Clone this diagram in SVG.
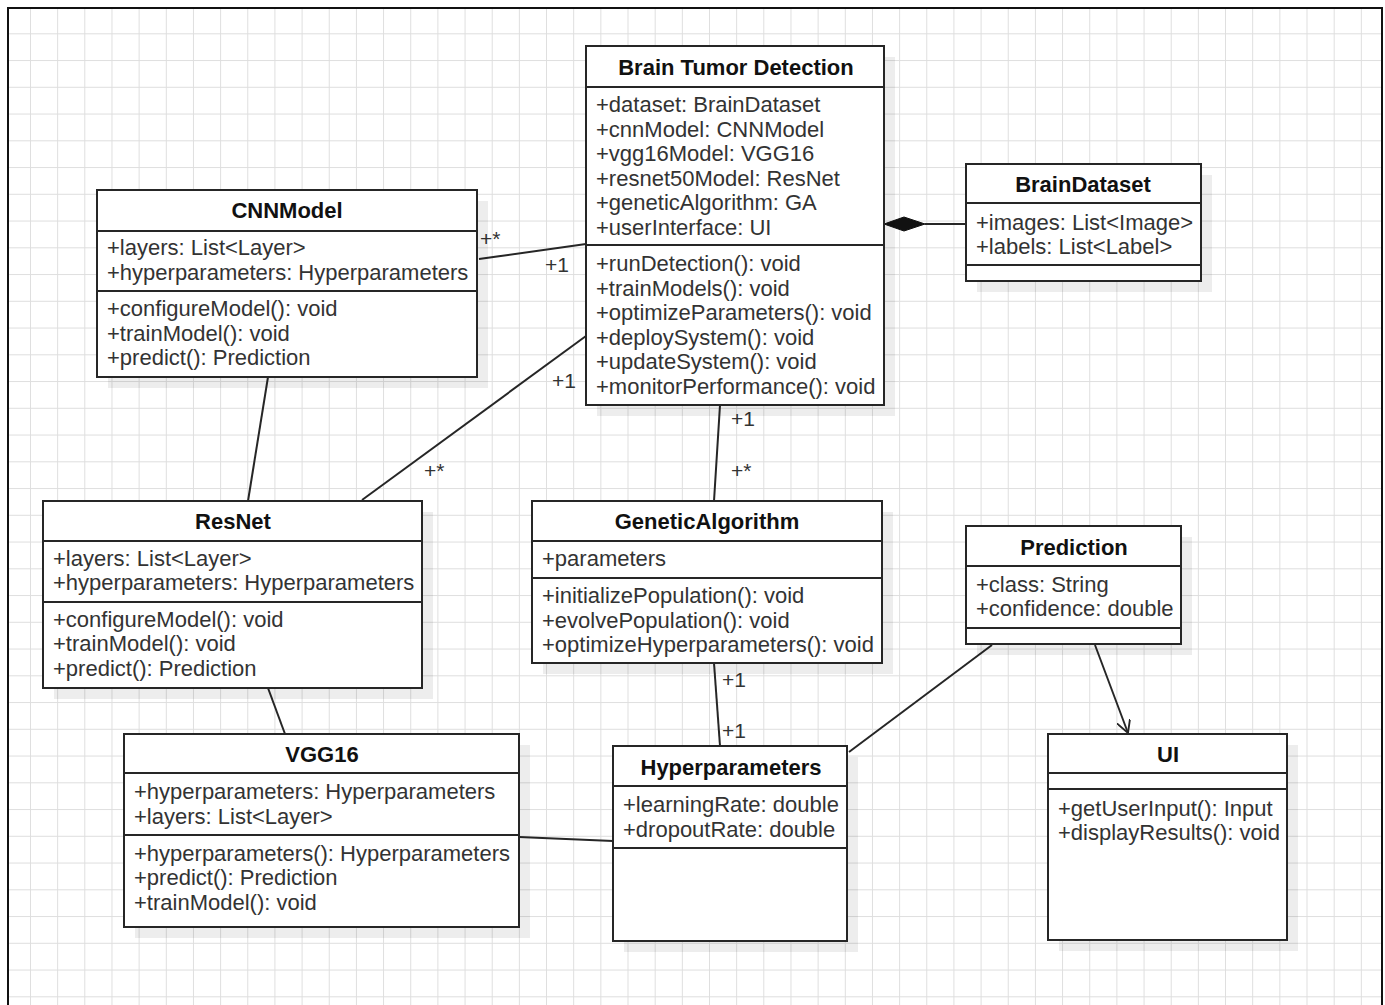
<svg xmlns="http://www.w3.org/2000/svg" width="1385" height="1005" viewBox="0 0 1385 1005">
<style>
.box{fill:#fff;stroke:#262626;stroke-width:2}
.shadow{fill:#000;fill-opacity:0.07}
.div{stroke:#262626;stroke-width:2}
.t{font-family:"Liberation Sans",Arial,sans-serif;font-size:22px;fill:#333;dominant-baseline:central}
.h{font-family:"Liberation Sans",Arial,sans-serif;font-size:22px;font-weight:bold;fill:#111;text-anchor:middle;dominant-baseline:central}
.m{font-family:"Liberation Sans",Arial,sans-serif;font-size:21px;fill:#333;dominant-baseline:central}
.c{stroke:#262626;stroke-width:2;fill:none}
</style>
<defs>
<pattern id="grid" patternUnits="userSpaceOnUse" x="2.84" y="6.55" width="27.16" height="26.75">
<path d="M0,0 H27.16 M0,0 V26.75" stroke="#dedede" stroke-width="2" fill="none"/>
</pattern>
<marker id="open" viewBox="0 0 12 12" refX="11" refY="6" markerWidth="14" markerHeight="14" markerUnits="userSpaceOnUse" orient="auto">
<path d="M0,0 L11,6 L0,12" fill="none" stroke="#262626" stroke-width="1.6"/>
</marker>
</defs>
<rect x="0" y="0" width="1385" height="1005" fill="#fff"/>
<rect x="8" y="8" width="1374" height="1010" fill="url(#grid)"/>
<rect x="8" y="8" width="1374" height="1010" fill="none" stroke="#111" stroke-width="2"/>

<g id="connectors">
<line class="c" x1="479" y1="259" x2="586" y2="244"/>
<line class="c" x1="268" y1="377" x2="248" y2="501"/>
<line class="c" x1="362" y1="500" x2="586" y2="336"/>
<line class="c" x1="720" y1="405" x2="714" y2="501"/>
<line class="c" x1="714" y1="663" x2="720" y2="746"/>
<line class="c" x1="268" y1="688" x2="285" y2="734"/>
<line class="c" x1="519" y1="837" x2="613" y2="841"/>
<line class="c" x1="992" y1="645" x2="849" y2="752"/>
<line class="c" x1="1095" y1="645" x2="1128" y2="733" marker-end="url(#open)"/>
<line class="c" x1="925" y1="224" x2="966" y2="224"/>
<polygon points="884,224 904,217 925,224 904,231" fill="#111" stroke="#111" stroke-width="1"/>
<text class="m" x="480" y="238">+*</text>
<text class="m" x="545" y="264">+1</text>
<text class="m" x="552" y="380">+1</text>
<text class="m" x="424" y="470">+*</text>
<text class="m" x="731" y="418">+1</text>
<text class="m" x="731" y="470">+*</text>
<text class="m" x="722" y="679">+1</text>
<text class="m" x="722" y="730">+1</text>
</g>

<g id="BrainTumorDetection">
<rect class="shadow" x="597" y="57" width="298" height="359"/>
<rect class="box" x="586" y="46" width="298" height="359"/>
<line class="div" x1="586" y1="87" x2="884" y2="87"/>
<line class="div" x1="586" y1="245" x2="884" y2="245"/>
<text class="h" x="736" y="67">Brain Tumor Detection</text>
<text class="t" x="596" y="104">+dataset: BrainDataset</text>
<text class="t" x="596" y="129">+cnnModel: CNNModel</text>
<text class="t" x="596" y="153">+vgg16Model: VGG16</text>
<text class="t" x="596" y="178">+resnet50Model: ResNet</text>
<text class="t" x="596" y="202">+geneticAlgorithm: GA</text>
<text class="t" x="596" y="227">+userInterface: UI</text>
<text class="t" x="596" y="263">+runDetection(): void</text>
<text class="t" x="596" y="288">+trainModels(): void</text>
<text class="t" x="596" y="312">+optimizeParameters(): void</text>
<text class="t" x="596" y="337">+deploySystem(): void</text>
<text class="t" x="596" y="361">+updateSystem(): void</text>
<text class="t" x="596" y="386">+monitorPerformance(): void</text>
</g>

<g id="BrainDataset">
<rect class="shadow" x="977" y="175" width="235" height="117"/>
<rect class="box" x="966" y="164" width="235" height="117"/>
<line class="div" x1="966" y1="203" x2="1201" y2="203"/>
<line class="div" x1="966" y1="265" x2="1201" y2="265"/>
<text class="h" x="1083" y="184">BrainDataset</text>
<text class="t" x="976" y="222">+images: List&lt;Image&gt;</text>
<text class="t" x="976" y="246">+labels: List&lt;Label&gt;</text>
</g>

<g id="CNNModel">
<rect class="shadow" x="108" y="201" width="380" height="187"/>
<rect class="box" x="97" y="190" width="380" height="187"/>
<line class="div" x1="97" y1="231" x2="477" y2="231"/>
<line class="div" x1="97" y1="291" x2="477" y2="291"/>
<text class="h" x="287" y="210">CNNModel</text>
<text class="t" x="107" y="247">+layers: List&lt;Layer&gt;</text>
<text class="t" x="107" y="272">+hyperparameters: Hyperparameters</text>
<text class="t" x="107" y="308">+configureModel(): void</text>
<text class="t" x="107" y="333">+trainModel(): void</text>
<text class="t" x="107" y="357">+predict(): Prediction</text>
</g>

<g id="ResNet">
<rect class="shadow" x="54" y="512" width="379" height="187"/>
<rect class="box" x="43" y="501" width="379" height="187"/>
<line class="div" x1="43" y1="541" x2="422" y2="541"/>
<line class="div" x1="43" y1="602" x2="422" y2="602"/>
<text class="h" x="233" y="521">ResNet</text>
<text class="t" x="53" y="558">+layers: List&lt;Layer&gt;</text>
<text class="t" x="53" y="582">+hyperparameters: Hyperparameters</text>
<text class="t" x="53" y="619">+configureModel(): void</text>
<text class="t" x="53" y="643">+trainModel(): void</text>
<text class="t" x="53" y="668">+predict(): Prediction</text>
</g>

<g id="GeneticAlgorithm">
<rect class="shadow" x="543" y="512" width="350" height="162"/>
<rect class="box" x="532" y="501" width="350" height="162"/>
<line class="div" x1="532" y1="541" x2="882" y2="541"/>
<line class="div" x1="532" y1="578" x2="882" y2="578"/>
<text class="h" x="707" y="521">GeneticAlgorithm</text>
<text class="t" x="542" y="558">+parameters</text>
<text class="t" x="542" y="595">+initializePopulation(): void</text>
<text class="t" x="542" y="620">+evolvePopulation(): void</text>
<text class="t" x="542" y="644">+optimizeHyperparameters(): void</text>
</g>

<g id="Prediction">
<rect class="shadow" x="977" y="537" width="215" height="118"/>
<rect class="box" x="966" y="526" width="215" height="118"/>
<line class="div" x1="966" y1="566" x2="1181" y2="566"/>
<line class="div" x1="966" y1="628" x2="1181" y2="628"/>
<text class="h" x="1074" y="547">Prediction</text>
<text class="t" x="976" y="584">+class: String</text>
<text class="t" x="976" y="608">+confidence: double</text>
</g>

<g id="VGG16">
<rect class="shadow" x="135" y="745" width="395" height="193"/>
<rect class="box" x="124" y="734" width="395" height="193"/>
<line class="div" x1="124" y1="773" x2="519" y2="773"/>
<line class="div" x1="124" y1="835" x2="519" y2="835"/>
<text class="h" x="322" y="754">VGG16</text>
<text class="t" x="134" y="791">+hyperparameters: Hyperparameters</text>
<text class="t" x="134" y="816">+layers: List&lt;Layer&gt;</text>
<text class="t" x="134" y="853">+hyperparameters(): Hyperparameters</text>
<text class="t" x="134" y="877">+predict(): Prediction</text>
<text class="t" x="134" y="902">+trainModel(): void</text>
</g>

<g id="Hyperparameters">
<rect class="shadow" x="624" y="757" width="234" height="195"/>
<rect class="box" x="613" y="746" width="234" height="195"/>
<line class="div" x1="613" y1="786" x2="847" y2="786"/>
<line class="div" x1="613" y1="848" x2="847" y2="848"/>
<text class="h" x="731" y="767">Hyperparameters</text>
<text class="t" x="623" y="804">+learningRate: double</text>
<text class="t" x="623" y="829">+dropoutRate: double</text>
</g>

<g id="UI">
<rect class="shadow" x="1059" y="745" width="239" height="206"/>
<rect class="box" x="1048" y="734" width="239" height="206"/>
<line class="div" x1="1048" y1="773" x2="1287" y2="773"/>
<line class="div" x1="1048" y1="789" x2="1287" y2="789"/>
<text class="h" x="1168" y="754">UI</text>
<text class="t" x="1058" y="808">+getUserInput(): Input</text>
<text class="t" x="1058" y="832">+displayResults(): void</text>
</g>
</svg>
